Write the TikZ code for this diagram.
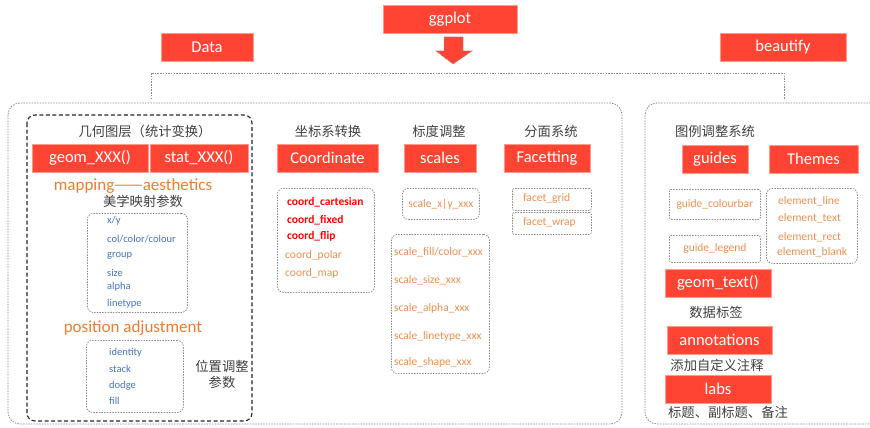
\documentclass[tikz,border=0pt]{standalone}
\usepackage{fontspec}
\setmainfont{Carlito}
\newfontfamily\cjk{Noto Sans CJK SC}
\definecolor{boxred}{HTML}{FF4433}
\definecolor{boxedge}{HTML}{FF9A8C}
\definecolor{linegray}{HTML}{8C8C8C}
\definecolor{headgray}{HTML}{404040}
\definecolor{orangebig}{HTML}{ED7D31}
\definecolor{orangesmall}{HTML}{EF8E4E}
\definecolor{itemblue}{HTML}{4472C4}
\definecolor{itemred}{HTML}{FF0000}
\tikzset{
  redbox/.style={fill=boxred, draw=boxedge, line width=0.6pt, text=white,
    font=\fontsize{16.5}{18}\selectfont, inner sep=0pt, minimum height=28pt},
  dotbox/.style={draw=linegray, line width=0.8pt, dash pattern=on 1.5pt off 1.2pt,
    rounded corners=6pt, inner sep=0pt, anchor=north west},
  sqbox/.style={dotbox, rounded corners=2pt},
  panel/.style={draw=linegray, line width=0.8pt, dash pattern=on 1.5pt off 1.2pt,
    rounded corners=12pt},
  heading/.style={text=headgray, font=\cjk\fontsize{13.3}{16}\selectfont, inner sep=0pt},
  bigorange/.style={text=orangebig, font=\fontsize{17}{19}\selectfont, inner sep=0pt},
  smallorange/.style={text=orangesmall, font=\fontsize{11.5}{13}\selectfont, inner sep=0pt},
  boldred/.style={text=itemred, font=\bfseries\fontsize{11.5}{13}\selectfont, inner sep=0pt, anchor=west},
  blueitem/.style={text=itemblue, font=\fontsize{10.5}{12}\selectfont, inner sep=0pt, anchor=west},
}
\begin{document}
\begin{tikzpicture}[x=1pt,y=-1pt]
\useasboundingbox (0,0) rectangle (870,428);
\begin{scope}
\clip (0,0) rectangle (870,428);

% top row
\node[redbox, minimum width=134pt] (ggplot) at (450,19) {ggplot};
\node[redbox, minimum width=92pt] (data) at (207,47.5) {Data};
\node[redbox, minimum width=126pt] (beautify) at (783,47) {beautify};

% block arrow below ggplot
\draw[fill=boxred, draw=linegray, line width=0.5pt, dash pattern=on 1pt off 0.8pt]
  (444,37) -- (463,37) -- (463,51) -- (472,51) -- (453,64) -- (436,51) -- (444,51) -- cycle;

% bracket joining the two panels
\coordinate (bl) at (151,99);
\coordinate (br) at (784,99);
\draw[draw=linegray, line width=0.8pt, dash pattern=on 1.5pt off 1.2pt]
  (bl) -- (151,73) -- (784,73) -- (br);

% panels
\draw[panel] (8,103) rectangle (622,424);
\draw[panel] (645,103) rectangle (884,424);
\draw[black!85, line width=1.1pt, dash pattern=on 4pt off 2.5pt, rounded corners=8pt]
  (27,115) rectangle (252,421);

% ---- geometric layers ----
\node[heading] (geomhead) at (145,131) {几何图层（统计变换）};
\node[redbox, minimum width=116pt] (geom) at (90,158) {geom\_XXX()};
\node[redbox, minimum width=98pt] (stat) at (199,158) {stat\_XXX()};
\node[bigorange] (mapping) at (133,186) {mapping{\cjk ——}aesthetics};
\node[heading] (aeshead) at (143,201) {美学映射参数};
\node[dotbox, minimum width=100pt, minimum height=99pt] (aesbox) at (87,213) {};
\node[blueitem] (axy) at (107,221) {x/y};
\node[blueitem] (acol) at (107,239) {col/color/colour};
\node[blueitem] (agroup) at (107,256) {group};
\node[blueitem] (asize) at (107,273) {size};
\node[blueitem] (aalpha) at (107,287) {alpha};
\node[blueitem] (alty) at (107,304) {linetype};
\node[bigorange] (position) at (133,328) {position adjustment};
\node[dotbox, minimum width=97pt, minimum height=72pt] (posbox) at (86,340) {};
\node[blueitem] (pid) at (109,353) {identity};
\node[blueitem] (pstack) at (109,369) {stack};
\node[blueitem] (pdodge) at (109,386) {dodge};
\node[blueitem] (pfill) at (109,401) {fill};
\node[heading, align=center, font=\cjk\fontsize{13.3}{16}\selectfont] (poshead) at (222,374) {位置调整\\参数};

% ---- coordinates ----
\node[heading] (coordhead) at (328,131) {坐标系转换};
\node[redbox, minimum width=101pt] (coord) at (327.5,158) {Coordinate};
\node[dotbox, minimum width=97pt, minimum height=104pt] (coordbox) at (277,188) {};
\node[boldred] (ccart) at (287,202) {coord\_cartesian};
\node[boldred] (cfixed) at (287,220) {coord\_fixed};
\node[boldred] (cflip) at (287,236) {coord\_flip};
\node[smallorange, anchor=west] (cpolar) at (285,255) {coord\_polar};
\node[smallorange, anchor=west] (cmap) at (285,273) {coord\_map};

% ---- scales ----
\node[heading] (scalehead) at (439,131) {标度调整};
\node[redbox, minimum width=72pt] (scales) at (440,158) {scales};
\node[dotbox, minimum width=77pt, minimum height=31pt] (xybox) at (402,188) {};
\node[smallorange] (sxy) at (xybox.center) {scale\_x|y\_xxx};
\node[dotbox, minimum width=98pt, minimum height=139pt] (scbox) at (391,234) {};
\node[smallorange, anchor=west] (sfill) at (394,252) {scale\_fill/color\_xxx};
\node[smallorange, anchor=west] (ssize) at (394,280) {scale\_size\_xxx};
\node[smallorange, anchor=west] (salpha) at (394,308) {scale\_alpha\_xxx};
\node[smallorange, anchor=west] (slty) at (394,336) {scale\_linetype\_xxx};
\node[smallorange, anchor=west] (sshape) at (394,362) {scale\_shape\_xxx};

% ---- facetting ----
\node[heading] (facethead) at (551,131) {分面系统};
\node[redbox, minimum width=86pt] (facet) at (547,158) {Facetting};
\node[sqbox, minimum width=79pt, minimum height=22pt] (gridbox) at (512,188) {};
\node[sqbox, minimum width=79pt, minimum height=22pt] (wrapbox) at (512,212) {};
\node[smallorange, anchor=west] (fgrid) at (523,198) {facet\_grid};
\node[smallorange, anchor=west] (fwrap) at (523,222) {facet\_wrap};

% ---- legends and themes ----
\node[heading] (legendhead) at (715,131) {图例调整系统};
\node[redbox, minimum width=66pt] (guides) at (715,159) {guides};
\node[redbox, minimum width=89pt] (themes) at (813.5,159) {Themes};
\node[sqbox, minimum width=91pt, minimum height=30pt] (cbarbox) at (669,189) {};
\node[smallorange] (gcbar) at (cbarbox.center) {guide\_colourbar};
\node[sqbox, minimum width=91pt, minimum height=27pt] (legbox) at (669,235) {};
\node[smallorange] (glegend) at (legbox.center) {guide\_legend};
\node[dotbox, minimum width=91pt, minimum height=75pt] (elbox) at (766,188) {};
\node[smallorange, anchor=west] (eline) at (778,201) {element\_line};
\node[smallorange, anchor=west] (etext) at (778,218) {element\_text};
\node[smallorange, anchor=west] (erect) at (778,237) {element\_rect};
\node[smallorange, anchor=west] (eblank) at (777,252) {element\_blank};

% ---- labels and annotations ----
\node[redbox, minimum width=106pt] (gtext) at (718,283) {geom\_text()};
\node[heading] (gtexthead) at (716,312) {数据标签};
\node[redbox, minimum width=105pt] (annot) at (719.5,340) {annotations};
\node[heading] (annothead) at (717,365) {添加自定义注释};
\node[redbox, minimum width=106pt] (labs) at (718,389) {labs};
\node[heading] (labshead) at (728,412) {标题、副标题、备注};
\end{scope}
\end{tikzpicture}
\end{document}
